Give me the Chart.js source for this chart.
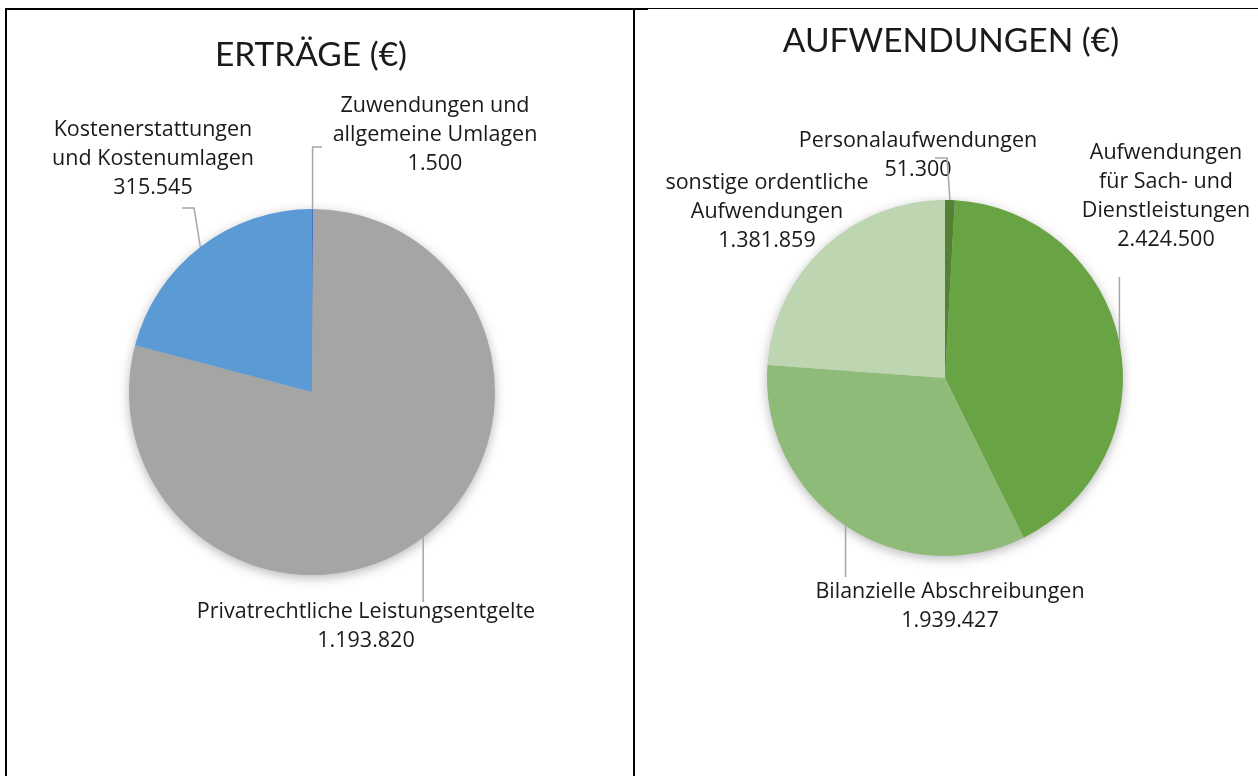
<!DOCTYPE html>
<html><head><meta charset="utf-8">
<script src="https://cdn.jsdelivr.net/npm/chart.js@4.4.1/dist/chart.umd.min.js"></script>
<style>
html,body{margin:0;padding:0;background:#fff;width:1258px;height:776px;overflow:hidden}
canvas{position:absolute;left:0;top:0}
.ln{position:absolute;background:#000}
</style></head><body>
<div class="ln" style="left:5px;top:8px;width:643px;height:2px"></div>
<div class="ln" style="left:648px;top:8px;width:610px;height:1px"></div>
<div class="ln" style="left:5px;top:8px;width:2px;height:768px"></div>
<div class="ln" style="left:633px;top:8px;width:2px;height:768px"></div>
<canvas id="c1" width="1258" height="776"></canvas>
<canvas id="c2" width="1258" height="776"></canvas>
<script>
// ---- data ----
const ertraegeTitle = 'ERTRÄGE (€)';
const ertraegeLabels = [['Zuwendungen und','allgemeine Umlagen'], ['Privatrechtliche Leistungsentgelte'], ['Kostenerstattungen','und Kostenumlagen']];
const ertraegeValues = [1500, 1193820, 315545];
const ertraegeColors = ['#4472C4', '#A5A5A5', '#5B9BD5'];

const aufwTitle = 'AUFWENDUNGEN (€)';
const aufwLabels = [['Personalaufwendungen'], ['Aufwendungen','für Sach- und','Dienstleistungen'], ['Bilanzielle Abschreibungen'], ['sonstige ordentliche','Aufwendungen']];
const aufwValues = [51300, 2424500, 1939427, 1381859];
const aufwColors = ['#548235', '#69A444', '#8FBB78', '#BDD6B1'];

const TITLE_FONT = 'Lato, "Open Sans", sans-serif';
const LABEL_FONT = '"Open Sans", Lato, sans-serif';
const fmt = v => v.toLocaleString('de-DE');

// label layout: first line center (x,y), leader elbow points (after anchor)
const layout1 = {
  title: {x: 311, y: 55},
  labels: [
    {x: 435, y: 106, path: [[null,147],[322,147]]},
    {x: 366, y: 612, path: [[null,602]]},
    {x: 153, y: 130, path: [[194,208],[182,208]]}
  ],
  pad: {left:129, right:763, top:209, bottom:201}
};
const layout2 = {
  title: {x: 951, y: 41},
  labels: [
    {x: 918, y: 141, path: [[947,158],[935,158]]},
    {x: 1166, y: 153, path: [[null,277]]},
    {x: 950, y: 592, path: [[null,577]]},
    {x: 767, y: 183, path: []}
  ],
  pad: {left:767, right:1258-945-178, top:200, bottom:776-378-178}
};

const shadowPlugin = {
  id: 'shadow',
  beforeDatasetsDraw(chart) {
    const a = chart.getDatasetMeta(0).data[0];
    const ctx = chart.ctx;
    ctx.save();
    ctx.shadowColor = 'rgba(0,0,0,0.3)';
    ctx.shadowBlur = 12;
    ctx.shadowOffsetY = 3;
    ctx.fillStyle = '#bbb';
    ctx.beginPath();
    ctx.arc(a.x, a.y, a.outerRadius - 0.5, 0, Math.PI*2);
    ctx.fill();
    ctx.restore();
  }
};

function labelPlugin(layout, titleText, labels, values) {
  return {
    id: 'lbl',
    afterDatasetsDraw(chart) {
      const ctx = chart.ctx;
      const meta = chart.getDatasetMeta(0);
      ctx.save();
      ctx.fillStyle = '#1a1a1a';
      ctx.textAlign = 'center';
      ctx.textBaseline = 'middle';
      ctx.font = '33.5px ' + TITLE_FONT;
      ctx.fillText(titleText, layout.title.x, layout.title.y);
      ctx.font = '21.5px ' + LABEL_FONT;
      meta.data.forEach((arc, i) => {
        const L = layout.labels[i];
        const lines = labels[i].concat([fmt(values[i])]);
        lines.forEach((t, k) => ctx.fillText(t, L.x, L.y + k * 29));
        if (L.path.length) {
          const mid = (arc.startAngle + arc.endAngle) / 2;
          const ax = arc.x + Math.cos(mid) * arc.outerRadius;
          const ay = arc.y + Math.sin(mid) * arc.outerRadius;
          ctx.strokeStyle = '#A6A6A6';
          ctx.lineWidth = 1.5;
          ctx.beginPath();
          ctx.moveTo(ax, ay);
          L.path.forEach(p => ctx.lineTo(p[0] === null ? ax : p[0], p[1]));
          ctx.stroke();
        }
      });
      ctx.restore();
    }
  };
}

function makePie(id, layout, title, labels, values, colors) {
  return new Chart(document.getElementById(id), {
    type: 'pie',
    data: {
      labels: labels.map(l => l.join(' ')),
      datasets: [{ data: values, backgroundColor: colors, borderWidth: 0, hoverOffset: 0, offset: 0 }]
    },
    options: {
      responsive: false,
      animation: false,
      layout: { padding: layout.pad },
      plugins: { legend: { display: false }, tooltip: { enabled: false }, title: { display: false } },
      events: []
    },
    plugins: [shadowPlugin, labelPlugin(layout, title, labels, values)]
  });
}

makePie('c1', layout1, ertraegeTitle, ertraegeLabels, ertraegeValues, ertraegeColors);
makePie('c2', layout2, aufwTitle, aufwLabels, aufwValues, aufwColors);
</script>
</body></html>
